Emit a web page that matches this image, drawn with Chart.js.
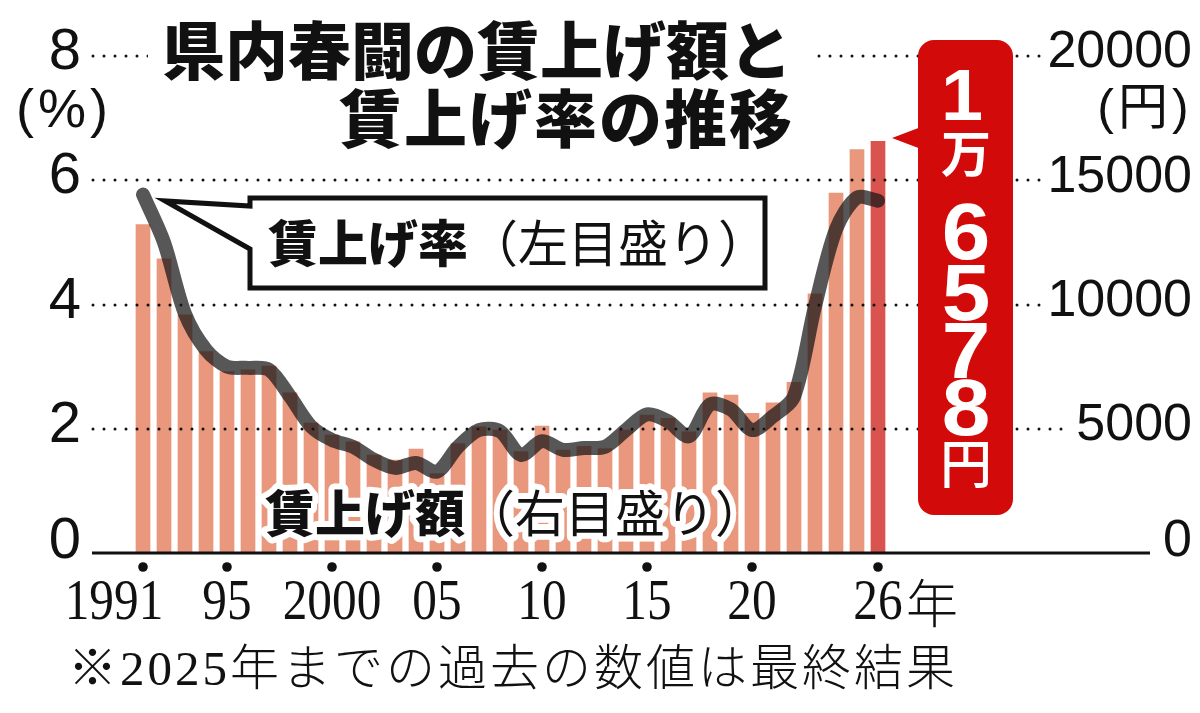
<!DOCTYPE html>
<html>
<head>
<meta charset="utf-8">
<style>
html,body{margin:0;padding:0;background:#fff;}
canvas{display:block;}
</style>
<script src="https://cdn.jsdelivr.net/npm/chart.js@4.4.1/dist/chart.umd.min.js"></script>
</head>
<body>
<canvas id="c" width="1200" height="713"></canvas>
<script>
// ---- data ----
const years = ['1991','1992','1993','1994','1995','1996','1997','1998','1999','2000',
  '2001','2002','2003','2004','2005','2006','2007','2008','2009','2010',
  '2011','2012','2013','2014','2015','2016','2017','2018','2019','2020',
  '2021','2022','2023','2024','2025','2026'];
const wageAmount = [13230,11850,9600,8120,7310,7380,7540,6460,5240,4760,
  4490,3950,3750,4200,3210,4420,5090,4960,4090,5120,
  4150,4310,4220,4960,5560,5430,4890,6460,6370,5630,
  6060,6880,10440,14500,16250,16578];
const wageRate = [5.77,5.00,3.85,3.27,3.00,2.98,2.95,2.52,2.04,1.82,
  1.71,1.50,1.37,1.45,1.31,1.71,1.98,1.96,1.58,1.80,
  1.66,1.69,1.71,1.98,2.23,2.12,1.88,2.39,2.31,1.98,
  2.20,2.52,3.97,5.21,5.72,5.67];
const leftTicks = [0,2,4,6,8];
const rightTicks = [0,5000,10000,15000,20000];
const xTickIndex = [0,4,9,14,19,24,29,35];
const xTickLabels = ['1991','95','2000','05','10','15','20','26'];

const barColors = wageAmount.map((v,i)=> i===wageAmount.length-1 ? '#d9544f' : '#e9977d');

const deco = {
  id:'deco',
  afterDatasetDraw(chart,args){
    if(args.index!==0) return;
    const ctx=chart.ctx, yL=chart.scales.yL;
    ctx.save();
    ctx.strokeStyle='#111'; ctx.lineWidth=3; ctx.lineCap='round';
    ctx.setLineDash([0,11]);
    leftTicks.forEach(v=>{
      if(v===0) return;
      const y=Math.round(yL.getPixelForValue(v));
      ctx.beginPath(); ctx.moveTo(93,y); ctx.lineTo(v===2?1070:1045,y); ctx.stroke();
    });
    ctx.setLineDash([]);
    ctx.lineCap='butt';
    const y0=yL.getPixelForValue(0);
    ctx.beginPath(); ctx.moveTo(92,y0); ctx.lineTo(1150,y0); ctx.stroke();
    ctx.restore();
  },
  afterDraw(chart){
    const ctx=chart.ctx, yL=chart.scales.yL, yR=chart.scales.yR, x=chart.scales.x;
    const CJK='"Noto Sans CJK JP"';
    ctx.save();
    // left ticks
    ctx.fillStyle='#111'; ctx.textAlign='right'; ctx.textBaseline='middle';
    ctx.font='58px "Liberation Sans"';
    leftTicks.forEach(v=>{
      const y=yL.getPixelForValue(v);
      ctx.fillText(String(v),81, v===0? y-11 : y-3);
    });
    ctx.font='54px "Liberation Sans"'; ctx.textAlign='center';
    ctx.letterSpacing='4px';
    ctx.fillText('(%)',64,112);
    ctx.letterSpacing='0px';
    // right ticks
    ctx.textAlign='right'; ctx.font='52px "Liberation Sans"';
    rightTicks.forEach(v=>{
      const y=yR.getPixelForValue(v);
      ctx.fillText(String(v),1192, v===0? y-11 : y-3);
    });
    ctx.textAlign='center'; ctx.font='50px "Liberation Sans", '+CJK;
    ctx.letterSpacing='4px';
    ctx.fillText('(円)',1145,110);
    ctx.letterSpacing='0px';
    // x tick dots + labels
    const y0=yL.getPixelForValue(0);
    xTickIndex.forEach((idx,k)=>{
      const px=x.getPixelForValue(idx);
      ctx.beginPath(); ctx.arc(px,y0+14,4.8,0,Math.PI*2); ctx.fillStyle='#111'; ctx.fill();
      const lab=xTickLabels[k];
      const cx = k===0 ? px-29 : px;
      ctx.save();
      ctx.translate(cx,604); ctx.scale(0.85,1);
      ctx.font='58px "Liberation Serif"'; ctx.textAlign='center'; ctx.textBaseline='middle';
      ctx.fillText(lab,0,0);
      ctx.restore();
      if(k===xTickIndex.length-1){
        ctx.font='300 52px '+CJK; ctx.textAlign='left'; ctx.textBaseline='middle';
        ctx.fillText('年',px+28,603);
      }
    });
    // footnote
    ctx.textAlign='left'; ctx.textBaseline='middle';
    ctx.font='300 49px "Liberation Serif", '+CJK;
    ctx.letterSpacing='3px';
    ctx.fillText('※2025年までの過去の数値は最終結果',68,672);
    ctx.letterSpacing='0px';
    // title
    ctx.fillStyle='#fff'; ctx.fillRect(148,18,662,68);
    ctx.fillStyle='#111'; ctx.textAlign='right';
    ctx.font='900 63px '+CJK;
    ctx.fillText('県内春闘の賃上げ額と',792,50);
    ctx.letterSpacing='2px';
    ctx.fillText('賃上げ率の推移',794,118);
    ctx.letterSpacing='0px';
    // callout for rate
    ctx.beginPath();
    ctx.moveTo(250,198); ctx.lineTo(765,198); ctx.lineTo(765,288); ctx.lineTo(250,288);
    ctx.lineTo(250,249); ctx.lineTo(165,201); ctx.lineTo(250,206); ctx.closePath();
    ctx.fillStyle='#fff'; ctx.fill();
    ctx.strokeStyle='#111'; ctx.lineWidth=5; ctx.lineJoin='miter'; ctx.stroke();
    ctx.fillStyle='#111'; ctx.textAlign='left'; ctx.textBaseline='middle';
    ctx.font='900 50px '+CJK;
    ctx.fillText('賃上げ率',268,243);
    let w=ctx.measureText('賃上げ率').width;
    ctx.font='400 50px '+CJK;
    ctx.fillText('（左目盛り）',268+w,243);
    // callout for amount (halo)
    ctx.lineJoin='round'; ctx.strokeStyle='#fff'; ctx.lineWidth=12;
    ctx.font='900 50px '+CJK;
    ctx.strokeText('賃上げ額',265,513);
    w=ctx.measureText('賃上げ額').width;
    ctx.font='400 50px '+CJK;
    ctx.strokeText('（右目盛り）',265+w,513);
    ctx.fillStyle='#111';
    ctx.font='900 50px '+CJK; ctx.fillText('賃上げ額',265,513);
    ctx.font='400 50px '+CJK; ctx.fillText('（右目盛り）',265+w,513);
    // red box
    ctx.fillStyle='#d30a0a';
    ctx.beginPath(); ctx.roundRect(918,40,95,475,16); ctx.fill();
    ctx.beginPath(); ctx.moveTo(892,138); ctx.lineTo(921,127); ctx.lineTo(921,149); ctx.closePath(); ctx.fill();
    ctx.fillStyle='#fff'; ctx.textAlign='center'; ctx.textBaseline='alphabetic';
    ctx.save(); ctx.translate(962,120); ctx.scale(1.05,1);
    ctx.font='bold 72px "Liberation Sans"'; ctx.fillText('1',0,0); ctx.restore();
    ctx.textBaseline='middle';
    ctx.font='700 50px '+CJK; ctx.fillText('万',966,153);
    ctx.textBaseline='alphabetic';
    [['6',259],['5',320],['7',378],['8',435]].forEach(([c,y])=>{
      ctx.save(); ctx.translate(966,y); ctx.scale(1.12,1.02);
      ctx.font='bold 78px "Liberation Sans"'; ctx.fillText(c,0,0); ctx.restore();
    });
    ctx.textBaseline='middle';
    ctx.font='500 52px '+CJK; ctx.fillText('円',966,463);
    ctx.restore();
  }
};

new Chart(document.getElementById('c'),{
  type:'bar',
  data:{
    labels:years,
    datasets:[
      {type:'bar',data:wageAmount,yAxisID:'yR',backgroundColor:barColors,
       barPercentage:0.7,categoryPercentage:1.0,order:1},
      {type:'line',data:wageRate,yAxisID:'yL',borderColor:'rgba(22,22,22,0.72)',
       borderWidth:14,tension:0.3,pointRadius:0,borderCapStyle:'round',borderJoinStyle:'round',
       fill:false,order:0}
    ]
  },
  options:{
    responsive:false,animation:false,devicePixelRatio:1,
    layout:{padding:{left:132.5,right:311.5,top:56,bottom:160}},
    plugins:{legend:{display:false},tooltip:{enabled:false}},
    scales:{
      x:{display:false,offset:true},
      yL:{display:false,position:'left',min:0,max:8},
      yR:{display:false,position:'right',min:0,max:20000}
    }
  },
  plugins:[deco]
});
</script>
</body>
</html>
